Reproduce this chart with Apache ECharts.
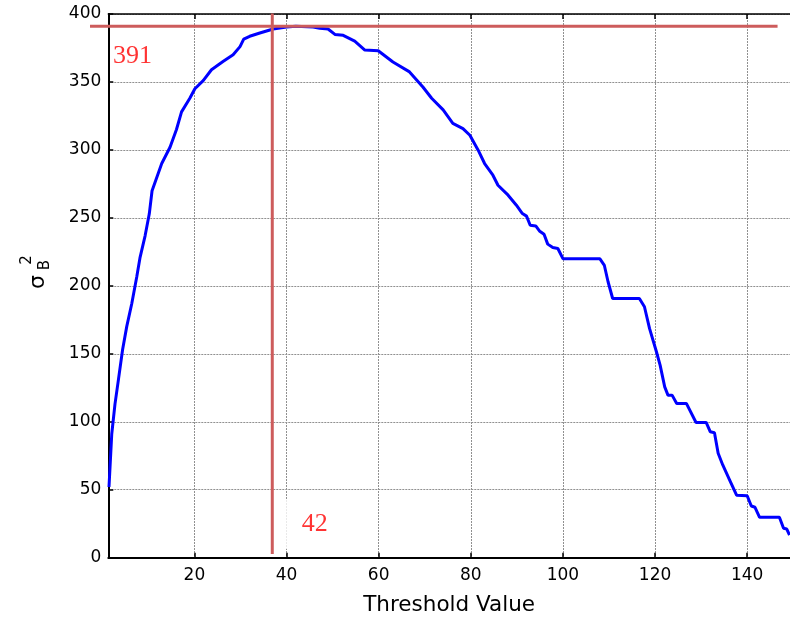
<!DOCTYPE html>
<html>
<head>
<meta charset="utf-8">
<script src="https://cdn.jsdelivr.net/npm/echarts@6/dist/echarts.min.js"></script>
<style>
  html, body { margin: 0; padding: 0; background: #fff; }
  #chart { width: 790px; height: 620px; }
</style>
</head>
<body>
<div id="chart"></div>
<script>
// Between-class variance for each candidate threshold
const thresholds = [
  1.45, 2.05, 2.75, 3.5, 4.4, 5.3, 6.4, 7.5, 8.2, 9.3, 10.2, 10.8, 12.9, 14.7, 16.1, 17.2,
  19.0, 20.1, 21.9, 23.7, 26.2, 28.4, 29.9, 30.7, 32.0, 34.2, 37.1, 40.0, 42.0, 45.8, 47.2,
  49.0, 50.5, 52.3, 54.8, 57.0, 59.9, 63.1, 66.7, 69.6, 71.5, 74.0, 76.1, 78.3, 79.8, 81.6,
  83.0, 84.8, 85.9, 88.1, 89.9, 91.2, 92.1, 92.9, 94.1, 94.9, 95.9, 96.7, 97.8, 98.9, 100.0,
  108.0, 109.0, 109.8, 110.8, 116.6, 117.7, 118.8, 120.3, 121.1, 122.1, 122.8, 123.7, 124.7,
  126.8, 128.9, 131.1, 132.0, 132.9, 133.7, 134.7, 136.2, 137.7, 140.0, 140.9, 141.7, 142.7,
  147.0, 147.9, 148.6, 149.2
];
const variance = [
  52, 91, 113, 131, 153, 170, 187, 207, 221, 237, 253, 270, 290, 302, 315, 328,
  338, 345, 351, 359, 365, 370, 376, 381.5, 383.6, 386, 389, 390.5, 391, 390.5, 389.5,
  389, 385, 384.3, 380, 373.5, 373, 364.7, 357.4, 346.3, 338, 329.5, 319.5, 315.7, 310.8, 299.8,
  290, 281.4, 274, 266.7, 259.3, 253.2, 251.3, 244.6, 244.1, 240.4, 238, 230.7, 228.2, 227.5, 220,
  220, 215, 203, 190.7, 190.7, 184.6, 168.7, 151.5, 141.7, 125.7, 119.6, 119.6, 113.5,
  113.5, 99.5, 99.5, 92.6, 91.9, 76.8, 68.2, 57.1, 46, 45.6, 38, 37.1, 29.7,
  29.7, 21.6, 21.1, 16.7
];

const xTicks = [20, 40, 60, 80, 100, 120, 140];
const xRange = [1.3, 149.3];
const yRange = [0, 400];
const yStep = 50;

// Reference lines and their annotations
const maxVariance = 391;
const bestThreshold = 42;
const cutLineX = 36.9;
const hLineSpan = [-2.67, 146.6];
const vLineSpan = [2.7, 400.3];

const curve = thresholds.map((t, i) => [t, variance[i]]);

const gridColor = '#909090';
const tickFont = { fontFamily: 'DejaVu Sans', fontSize: 17, color: '#000' };

const plotLeft = 108.3;
const xScale = (790 - plotLeft) / (xRange[1] - xRange[0]);
// The wide overlay grid shares the same scale, but starts where the horizontal line begins
const overlayLeft = plotLeft - (xRange[0] - hLineSpan[0]) * xScale;

const chart = echarts.init(document.getElementById('chart'), null, { renderer: 'canvas' });

chart.setOption({
  animation: false,
  backgroundColor: '#fff',
  grid: [
    { left: plotLeft, right: 0, top: 14, bottom: 62.3, containLabel: false, outerBoundsMode: 'none' },
    { left: overlayLeft, right: 0, top: 14, bottom: 62.3, containLabel: false, outerBoundsMode: 'none' }
  ],
  xAxis: [
    {
      type: 'value',
      gridIndex: 0,
      min: xRange[0],
      max: xRange[1],
      name: 'Threshold Value',
      nameLocation: 'middle',
      nameGap: 37,
      nameTextStyle: { fontFamily: 'DejaVu Sans', fontSize: 21.5, color: '#000' },
      axisLine: { onZero: false, lineStyle: { color: '#000', width: 2 } },
      axisTick: { inside: true, length: 5, customValues: xTicks, lineStyle: { color: '#000', width: 1.5 } },
      axisLabel: Object.assign({ margin: 9, customValues: xTicks }, tickFont),
      splitLine: { show: true, lineStyle: { color: gridColor, width: 1, type: [2, 1] } }
    },
    {
      type: 'value',
      gridIndex: 0,
      position: 'top',
      min: xRange[0],
      max: xRange[1],
      axisLine: { onZero: false, lineStyle: { color: '#000', width: 1.5 } },
      axisTick: { inside: true, length: 5, customValues: xTicks, lineStyle: { color: '#000', width: 1.5 } },
      axisLabel: { show: false },
      splitLine: { show: false }
    },
    {
      type: 'value',
      gridIndex: 1,
      min: hLineSpan[0],
      max: xRange[1],
      show: false
    }
  ],
  yAxis: [
    {
      type: 'value',
      gridIndex: 0,
      min: yRange[0],
      max: yRange[1],
      interval: yStep,
      axisLine: { onZero: false, lineStyle: { color: '#000', width: 2 } },
      axisTick: { inside: true, length: 5, lineStyle: { color: '#000', width: 1.5 } },
      axisLabel: Object.assign({ margin: 7 }, tickFont),
      splitLine: { show: true, lineStyle: { color: gridColor, width: 1, type: [2, 1] } }
    },
    {
      type: 'value',
      gridIndex: 1,
      min: yRange[0],
      max: yRange[1],
      show: false
    }
  ],
  series: [
    {
      type: 'line',
      xAxisIndex: 0,
      yAxisIndex: 0,
      data: curve,
      symbol: 'none',
      lineStyle: { color: '#0000ff', width: 3 },
      silent: true,
      z: 3
    },
    {
      type: 'line',
      xAxisIndex: 2,
      yAxisIndex: 1,
      data: [[hLineSpan[0], maxVariance], [hLineSpan[1], maxVariance]],
      symbol: 'none',
      clip: false,
      lineStyle: { color: '#cd5c5c', width: 3 },
      silent: true,
      z: 4
    },
    {
      type: 'line',
      xAxisIndex: 0,
      yAxisIndex: 0,
      data: [[cutLineX, vLineSpan[0]], [cutLineX, vLineSpan[1]]],
      symbol: 'none',
      clip: false,
      lineStyle: { color: '#cd5c5c', width: 3 },
      silent: true,
      z: 4
    },
    {
      type: 'scatter',
      xAxisIndex: 0,
      yAxisIndex: 0,
      symbolSize: 1,
      itemStyle: { color: 'rgba(0,0,0,0)' },
      silent: true,
      z: 5,
      data: [
        {
          value: [6.55, 368.9],
          label: {
            show: true, position: 'inside', formatter: String(maxVariance),
            fontFamily: 'Liberation Serif', fontSize: 26, color: '#ff0000'
          }
        },
        {
          value: [45.16, 24.8],
          label: {
            show: true, position: 'inside', formatter: String(bestThreshold),
            fontFamily: 'Liberation Serif', fontSize: 26, color: '#ff0000',
            backgroundColor: '#fff', padding: [13.5, 10, 10.5, 19]
          }
        }
      ]
    }
  ],
  graphic: [
    {
      type: 'group',
      x: 38,
      y: 282,
      rotation: Math.PI / 2,
      children: [
        { type: 'text', x: 0, y: 0, style: { text: 'σ', font: '22px "DejaVu Sans"', fill: '#000', align: 'center', verticalAlign: 'middle' } },
        { type: 'text', x: 17, y: 7, style: { text: 'B', font: '15px "DejaVu Sans"', fill: '#000', align: 'center', verticalAlign: 'middle' } },
        { type: 'text', x: 22, y: -11, style: { text: '2', font: '15px "DejaVu Sans"', fill: '#000', align: 'center', verticalAlign: 'middle' } }
      ]
    }
  ]
});
</script>
</body>
</html>
